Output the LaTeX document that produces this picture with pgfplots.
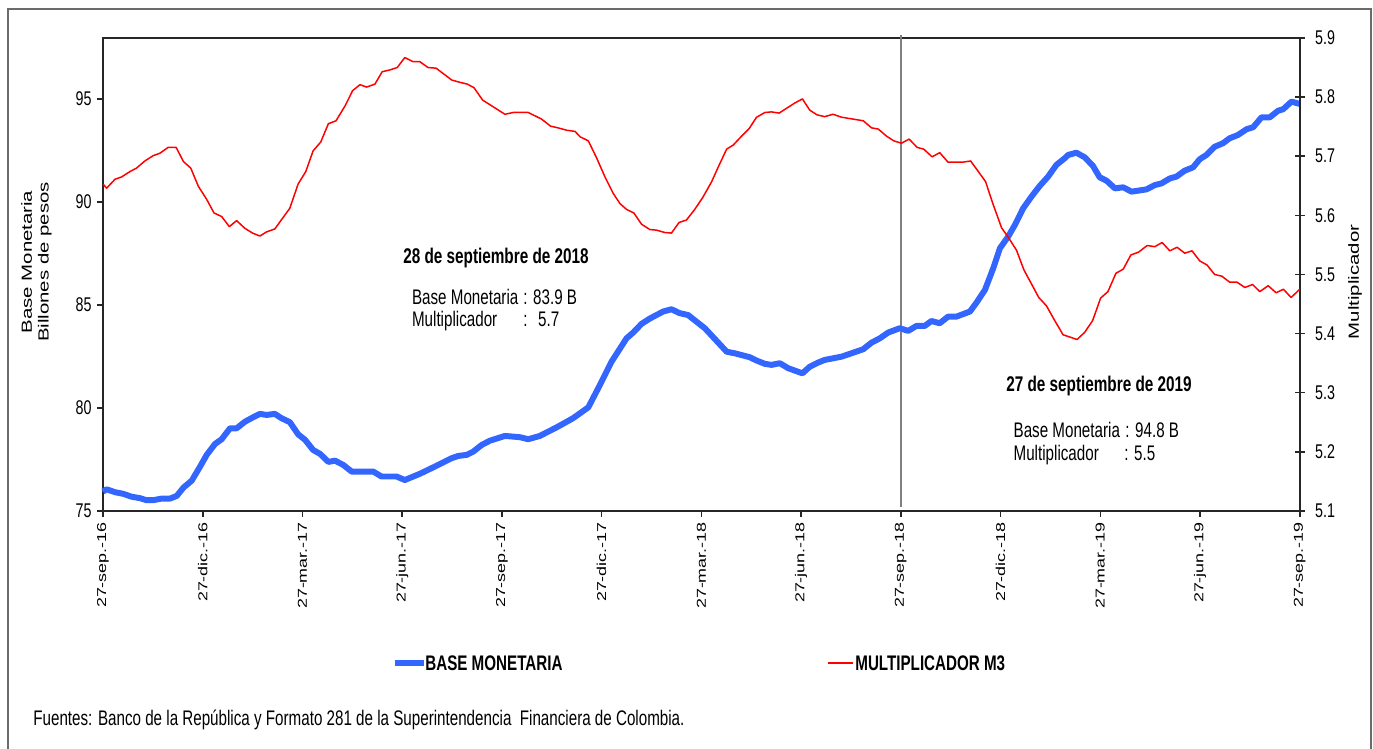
\documentclass[border=0pt]{standalone}
\usepackage{fontspec}
\setmainfont{Liberation Sans}[FakeStretch=0.72]
\newfontfamily\wide{Liberation Sans}
\usepackage{graphicx}
\usepackage{pgfplots}
\pgfplotsset{compat=1.18}
\definecolor{bmblue}{HTML}{3366FF}
\definecolor{frame}{HTML}{6B6B6B}
\newcommand{\dl}[1]{\rotatebox{90}{\scalebox{1}[0.72]{\wide\fontsize{10.2}{11}\selectfont #1}}}
\begin{document}
\begin{tikzpicture}
\begin{scope}[x=0.02cm,y=-0.02cm]
\useasboundingbox (0,0) rectangle (1373,748);
\draw[line width=0.8pt, frame] (8,9) rectangle (1371,770);
\end{scope}
\begin{axis}[
  at={(2.06cm,-10.22cm)}, anchor=south west,
  scale only axis, width=23.94cm, height=9.46cm,
  xmin=0, xmax=36, ymin=75, ymax=97.96,
  clip=false,
  axis line style={line width=0.9pt, black!85},
  major tick style={line width=0.9pt, black!85},
  major tick length=0.12cm,
  tick align=outside,
  ytick pos=left, xtick pos=bottom,
  xtick={0,3,...,36},
  xticklabels={\dl{27-sep.-16},\dl{27-dic.-16},\dl{27-mar.-17},\dl{27-jun.-17},\dl{27-sep.-17},\dl{27-dic.-17},\dl{27-mar.-18},\dl{27-jun.-18},\dl{27-sep.-18},\dl{27-dic.-18},\dl{27-mar.-19},\dl{27-jun.-19},\dl{27-sep.-19}},
  xticklabel style={anchor=north, inner sep=0pt, yshift=-0.1cm},
  ytick={75,80,85,90,95},
  /pgf/number format/assume math mode=true,
  yticklabel style={font=\fontsize{11.3}{12}\selectfont, inner sep=0pt, xshift=-0.1cm},
]
\draw[line width=1.1pt, black!50] (axis cs:24,75.19) -- (axis cs:24,98.1);
\addplot[bmblue, line width=3.4pt, line join=round] coordinates {
(0,75.94) (0.11,76.05) (0.36,75.91) (0.61,75.83) (0.86,75.69) (1.11,75.62) (1.31,75.52) (1.51,75.52) (1.77,75.60) (2.02,75.60) (2.22,75.73) (2.42,76.13) (2.67,76.47) (2.92,77.15) (3.12,77.72) (3.37,78.25) (3.57,78.48) (3.82,79.01) (4.02,79.01) (4.27,79.33) (4.52,79.55) (4.72,79.71) (4.92,79.66) (5.17,79.71) (5.37,79.50) (5.62,79.31) (5.87,78.72) (6.08,78.45) (6.32,77.96) (6.53,77.77) (6.78,77.38) (6.98,77.44) (7.23,77.23) (7.48,76.91) (8.13,76.91) (8.38,76.67) (8.83,76.67) (9.08,76.50) (9.53,76.80) (9.98,77.15) (10.49,77.56) (10.69,77.67) (10.94,77.72) (11.14,77.88) (11.39,78.20) (11.64,78.41) (12.09,78.64) (12.54,78.58) (12.79,78.48) (13.14,78.64) (13.65,79.06) (14.14,79.50) (14.35,79.74) (14.60,80.03) (14.95,81.12) (15.30,82.25) (15.75,83.38) (15.95,83.66) (16.20,84.08) (16.45,84.34) (16.85,84.68) (17.10,84.79) (17.35,84.60) (17.60,84.51) (18.11,83.86) (18.76,82.73) (19.01,82.65) (19.46,82.46) (19.66,82.30) (19.91,82.14) (20.11,82.09) (20.36,82.17) (20.61,81.93) (21.04,81.68) (21.26,82.00) (21.51,82.20) (21.71,82.33) (22.22,82.49) (22.87,82.85) (23.12,83.17) (23.37,83.38) (23.62,83.66) (23.97,83.87) (24.22,83.74) (24.47,83.98) (24.72,83.98) (24.92,84.22) (25.17,84.11) (25.42,84.43) (25.67,84.43) (26.08,84.68) (26.28,85.12) (26.53,85.73) (26.78,86.78) (26.98,87.75) (27.23,88.32) (27.43,88.88) (27.68,89.69) (27.93,90.26) (28.18,90.78) (28.43,91.23) (28.68,91.80) (28.93,92.12) (29.03,92.28) (29.28,92.39) (29.53,92.17) (29.78,91.75) (29.98,91.20) (30.19,91.03) (30.44,90.66) (30.69,90.71) (30.94,90.50) (31.39,90.61) (31.64,90.82) (31.84,90.90) (32.09,91.14) (32.29,91.23) (32.54,91.52) (32.79,91.68) (32.99,92.07) (33.19,92.28) (33.44,92.68) (33.69,92.85) (33.89,93.09) (34.14,93.25) (34.40,93.53) (34.60,93.63) (34.85,94.11) (35.10,94.11) (35.35,94.43) (35.50,94.50) (35.75,94.87) (36.00,94.76)
};
\end{axis}
\begin{axis}[
  at={(2.06cm,-10.22cm)}, anchor=south west,
  scale only axis, width=23.94cm, height=9.46cm,
  xmin=0, xmax=36, ymin=5.1, ymax=5.9,
  axis x line=none, axis y line*=right,
  axis line style={line width=0.9pt, black!85},
  major tick style={line width=0.9pt, black!85},
  major tick length=0.2cm,
  tick align=center,
  ytick={5.1,5.2,5.3,5.4,5.5,5.6,5.7,5.8,5.9},
  /pgf/number format/assume math mode=true,
  /pgf/number format/fixed, /pgf/number format/fixed zerofill, /pgf/number format/precision=1,
  yticklabel style={font=\fontsize{11.3}{12}\selectfont, inner sep=0pt, xshift=0.2cm},
]
\addplot[red, line width=0.85pt, line join=round] coordinates {
(0,5.653) (0.11,5.646) (0.36,5.661) (0.56,5.665) (0.81,5.674) (1.01,5.680) (1.26,5.692) (1.51,5.701) (1.71,5.705) (1.96,5.715) (2.20,5.715) (2.42,5.691) (2.64,5.680) (2.87,5.649) (3.12,5.627) (3.34,5.604) (3.57,5.598) (3.80,5.581) (4.02,5.591) (4.27,5.578) (4.50,5.570) (4.72,5.565) (4.92,5.572) (5.17,5.577) (5.40,5.595) (5.62,5.612) (5.87,5.653) (6.10,5.674) (6.32,5.709) (6.55,5.724) (6.78,5.755) (7.01,5.760) (7.28,5.785) (7.51,5.811) (7.73,5.821) (7.93,5.817) (8.18,5.822) (8.40,5.843) (8.63,5.846) (8.85,5.850) (9.08,5.867) (9.33,5.860) (9.53,5.860) (9.78,5.850) (10.02,5.849) (10.49,5.829) (10.74,5.825) (10.96,5.822) (11.16,5.816) (11.42,5.795) (11.84,5.780) (12.09,5.771) (12.34,5.774) (12.79,5.774) (13.19,5.763) (13.46,5.751) (13.69,5.748) (13.95,5.744) (14.20,5.742) (14.35,5.733) (14.60,5.726) (14.85,5.697) (15.10,5.665) (15.35,5.637) (15.55,5.620) (15.75,5.610) (15.97,5.604) (16.20,5.585) (16.45,5.576) (16.65,5.575) (16.90,5.571) (17.10,5.570) (17.33,5.588) (17.55,5.592) (17.80,5.610) (18.05,5.631) (18.31,5.657) (18.51,5.682) (18.76,5.712) (18.96,5.719) (19.21,5.734) (19.44,5.747) (19.66,5.766) (19.91,5.774) (20.11,5.775) (20.34,5.773) (20.56,5.781) (20.81,5.790) (21.04,5.797) (21.26,5.778) (21.48,5.770) (21.71,5.767) (21.96,5.771) (22.22,5.766) (22.87,5.760) (23.12,5.748) (23.32,5.746) (23.57,5.734) (23.79,5.726) (24.02,5.722) (24.25,5.729) (24.49,5.715) (24.69,5.712) (24.94,5.699) (25.17,5.706) (25.42,5.690) (25.87,5.690) (26.10,5.692) (26.32,5.675) (26.55,5.657) (26.78,5.618) (27.03,5.579) (27.23,5.563) (27.48,5.541) (27.70,5.508) (27.93,5.484) (28.15,5.461) (28.38,5.447) (28.63,5.422) (28.88,5.398) (29.30,5.390) (29.53,5.402) (29.77,5.422) (30.01,5.460) (30.23,5.471) (30.47,5.502) (30.69,5.509) (30.92,5.533) (31.16,5.538) (31.41,5.549) (31.64,5.547) (31.86,5.554) (32.09,5.540) (32.31,5.546) (32.54,5.536) (32.76,5.540) (32.99,5.523) (33.21,5.516) (33.44,5.500) (33.66,5.497) (33.89,5.487) (34.11,5.487) (34.35,5.478) (34.58,5.483) (34.80,5.471) (35.05,5.481) (35.29,5.469) (35.51,5.475) (35.74,5.461) (36.00,5.475)
};
\end{axis}
\begin{scope}[x=0.02cm,y=-0.02cm, every node/.style={inner sep=0pt}]
% axis titles
\node at (37,262) {\rotatebox{90}{\scalebox{1}[0.72]{\wide\fontsize{11.6}{13.2}\selectfont\begin{tabular}{@{}c@{}}Base Monetaria\\Billones de pesos\end{tabular}}}};
\node at (1355,282) {\rotatebox{90}{\scalebox{1}[0.72]{\wide\fontsize{11.6}{13.2}\selectfont Multiplicador}}};
% annotation 2018
\node[anchor=base, font=\bfseries\fontsize{12.1}{13}\selectfont] at (496,263) {28 de septiembre de 2018};
\node[anchor=base west, font=\fontsize{12}{13}\selectfont] at (411.7,304) {Base Monetaria};
\node[anchor=base west, font=\fontsize{12}{13}\selectfont] at (523,304) {: 83.9 B};
\node[anchor=base west, font=\fontsize{12}{13}\selectfont] at (411.7,326.5) {Multiplicador};
\node[anchor=base west, font=\fontsize{12}{13}\selectfont] at (523,326.5) {:\hspace{0.5em}5.7};
% annotation 2019
\node[anchor=base, font=\bfseries\fontsize{12.1}{13}\selectfont] at (1099,391.5) {27 de septiembre de 2019};
\node[anchor=base west, font=\fontsize{12}{13}\selectfont] at (1013.3,437.3) {Base Monetaria};
\node[anchor=base west, font=\fontsize{12}{13}\selectfont] at (1125,437.3) {: 94.8 B};
\node[anchor=base west, font=\fontsize{12}{13}\selectfont] at (1013.3,460) {Multiplicador};
\node[anchor=base west, font=\fontsize{12}{13}\selectfont] at (1124,460) {: 5.5};
% legend
\draw[bmblue, line width=3.4pt] (395,663) -- (424,663);
\node[anchor=base west, font=\bfseries\fontsize{12}{13}\selectfont] at (425,670) {BASE MONETARIA};
\draw[red, line width=1.5pt] (828,663) -- (853,663);
\node[anchor=base west, font=\bfseries\fontsize{12}{13}\selectfont] at (855,670) {MULTIPLICADOR M3};
% source
\node[anchor=base west, font=\fontsize{12}{13}\selectfont] at (33,725) {Fuentes: Banco de la República y Formato 281 de la Superintendencia\ \ Financiera de Colombia.};
\end{scope}
\end{tikzpicture}
\end{document}
